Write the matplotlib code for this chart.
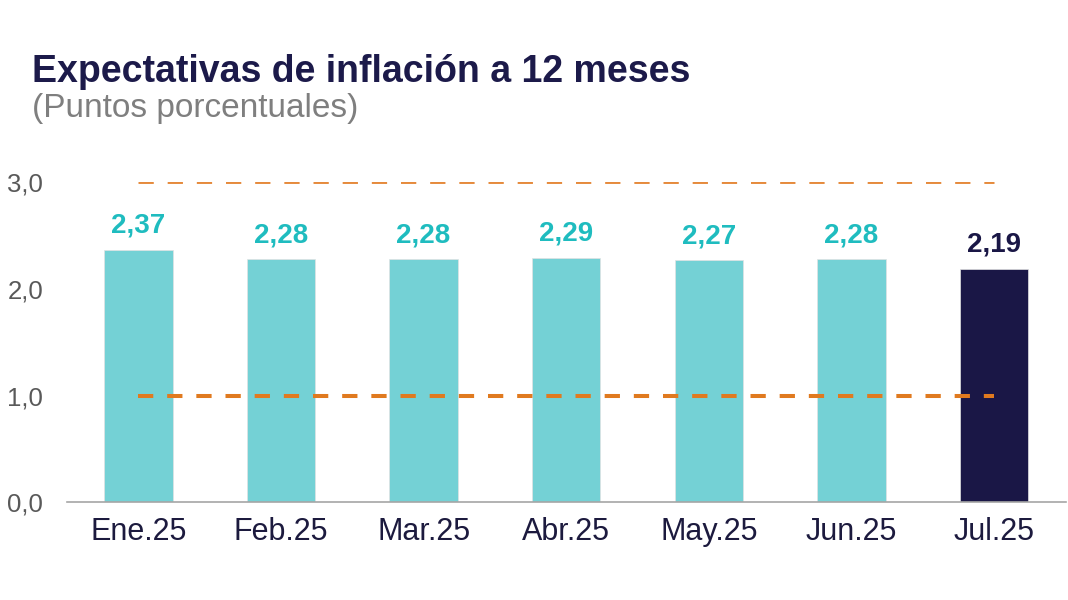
import matplotlib
matplotlib.use("Agg")
import matplotlib.pyplot as plt

plt.rcParams['font.family'] = ['Liberation Sans', 'DejaVu Sans']
plt.rcParams['lines.scale_dashes'] = False

meses = ['Ene.25', 'Feb.25', 'Mar.25', 'Abr.25', 'May.25', 'Jun.25', 'Jul.25']
expectativas = [2.37, 2.28, 2.28, 2.29, 2.27, 2.28, 2.19]
meta_superior = [3.0] * 7
meta_inferior = [1.0] * 7
y_ticks = [0.0, 1.0, 2.0, 3.0]

teal = '#74D1D5'
teal_txt = '#1FBCBF'
navy = '#1A1746'
naranja = '#E07A1F'

fig = plt.figure(figsize=(10.68, 6), dpi=100)
ax = fig.add_axes([0.0627, 0.163, 0.935, 0.533])

x = list(range(len(meses)))
colores = [teal] * (len(meses) - 1) + [navy]
ax.bar(x, expectativas, width=0.48, color=colores, edgecolor='#e2e2e2', linewidth=0.5, zorder=2)

# metas: rango de tolerancia
ax.plot(x, meta_superior, color='#E58A3C', lw=2.1, dashes=(11, 10), zorder=3)
ax.plot(x, meta_inferior, color=naranja, lw=2.9, dashes=(11, 10), zorder=3)

for i, v in enumerate(expectativas):
    c = navy if i == len(meses) - 1 else teal_txt
    ax.annotate(f'{v:.2f}'.replace('.', ','), (i, v), xytext=(0, 8), textcoords='offset points',
                ha='center', va='bottom', fontsize=20, fontweight='bold', color=c, clip_on=False)

ax.set_xlim(-0.5, 6.5)
ax.set_ylim(0, 3.0)
ax.set_xticks(x)
ax.set_xticklabels(meses, fontsize=22, color='#1C1A3E')
ax.set_yticks(y_ticks)
ax.set_yticklabels([f'{t:.1f}'.replace('.', ',') for t in y_ticks], fontsize=18.5, color='#595959')
ax.tick_params(axis='both', length=0)
ax.tick_params(axis='y', pad=17)
ax.tick_params(axis='x', pad=11)

for s in ['top', 'right', 'left']:
    ax.spines[s].set_visible(False)
ax.spines['bottom'].set_color('#A6A6A6')
ax.spines['bottom'].set_linewidth(1.2)

fig.text(0.030, 0.863, 'Expectativas de inflación a 12 meses', fontsize=27, fontweight='bold',
         color='#1C1A4A', va='baseline', ha='left')
fig.text(0.030, 0.805, '(Puntos porcentuales)', fontsize=24, color='#7F7F7F', va='baseline', ha='left')

fig.savefig('out.png', dpi=100)
